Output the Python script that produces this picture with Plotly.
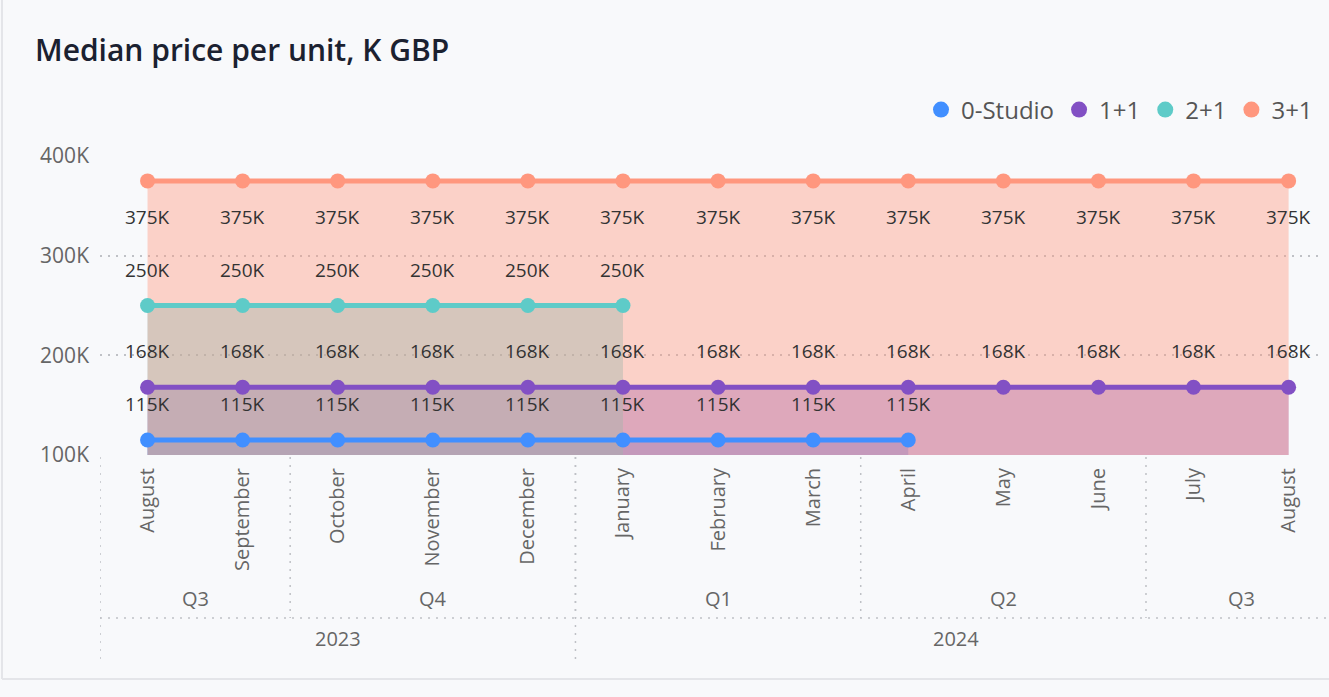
import plotly.graph_objects as go

# ---------------- data ----------------
months = ["August", "September", "October", "November", "December", "January",
          "February", "March", "April", "May", "June", "July", "August"]
quarters = ["Q3", "Q3", "Q4", "Q4", "Q4", "Q1", "Q1", "Q1", "Q2", "Q2", "Q2", "Q3", "Q3"]
years = ["2023", "2023", "2023", "2023", "2023", "2024", "2024", "2024", "2024",
         "2024", "2024", "2024", "2024"]

series_names = ["0-Studio", "1+1", "2+1", "3+1"]
studio_vals = [115, 115, 115, 115, 115, 115, 115, 115, 115]
one_one_vals = [168, 168, 168, 168, 168, 168, 168, 168, 168, 168, 168, 168, 168]
two_one_vals = [250, 250, 250, 250, 250, 250]
three_one_vals = [375, 375, 375, 375, 375, 375, 375, 375, 375, 375, 375, 375, 375]
y_ticks = [100, 200, 300, 400]
y_tick_labels = ["100K", "200K", "300K", "400K"]

# ---------------- style ----------------
colors = ["#418FFF", "#8250C4", "#5ECBC8", "#FF977E"]
fills = ["rgba(65,143,255,0.4)", "rgba(130,80,196,0.4)",
         "rgba(94,203,200,0.4)", "rgba(255,151,126,0.4)"]
label_shift = [36, 36, 36, -36]
FONT = "Open Sans"
BG = "#F8F9FB"
GRID = "#BFC1C6"
DOTS = "2px,6px"

W, H = 1329, 697
L, R, T, B = 100, 1320, 156, 455
PW, PH = R - L, B - T


def py(pix):  # screen pixel y -> paper y
    return (B - pix) / PH


def px(pix):  # screen pixel x -> paper x
    return (pix - L) / PW


all_vals = [studio_vals, one_one_vals, two_one_vals, three_one_vals]
fig = go.Figure()

# area fills (drawn first, in series order)
for name, vals, fc in zip(series_names, all_vals, fills):
    fig.add_trace(go.Scatter(
        x=list(range(len(vals))), y=vals, mode="none", fill="tozeroy",
        fillcolor=fc, showlegend=False, hoverinfo="skip"))

# lines + markers on top
for name, vals, c in zip(series_names, all_vals, colors):
    fig.add_trace(go.Scatter(
        x=list(range(len(vals))), y=vals, mode="lines+markers", name=name,
        line=dict(color=c, width=5), marker=dict(color=c, size=15),
        showlegend=False))

# legend entries (circle only)
for name, c in zip(series_names, colors):
    fig.add_trace(go.Scatter(
        x=[None], y=[None], mode="markers", name=name,
        marker=dict(color=c, size=19), showlegend=True))

annotations = []
# data labels
for vals, sh in zip(all_vals, label_shift):
    for i, v in enumerate(vals):
        annotations.append(dict(
            x=i, y=v, xref="x", yref="y", yshift=sh, text=f"{v}K",
            showarrow=False, font=dict(family=FONT, size=19, color="#333333")))


def groups(keys):
    out = []
    start = 0
    for i in range(1, len(keys) + 1):
        if i == len(keys) or keys[i] != keys[start]:
            out.append((start, i - 1))
            start = i
    return out


qkeys = [y + q for y, q in zip(years, quarters)]
shapes = []
dot = dict(color=GRID, width=1.5, dash=DOTS)
for s, e in groups(qkeys):
    annotations.append(dict(
        x=(s + e) / 2, y=py(598), xref="x", yref="paper", text=quarters[s],
        showarrow=False, yanchor="middle",
        font=dict(family=FONT, size=20, color="#666666")))
    if s > 0:
        shapes.append(dict(type="line", xref="x", yref="paper", x0=s - 0.5, x1=s - 0.5,
                           y0=py(457), y1=py(618), line=dot))
for s, e in groups(years):
    annotations.append(dict(
        x=(s + e) / 2, y=py(638), xref="x", yref="paper", text=years[s],
        showarrow=False, yanchor="middle",
        font=dict(family=FONT, size=20, color="#666666")))
    shapes.append(dict(type="line", xref="x", yref="paper", x0=s - 0.5, x1=s - 0.5,
                       y0=py(457), y1=py(660), line=dot))
shapes.append(dict(type="line", xref="paper", yref="paper", x0=0, x1=px(1335),
                   y0=py(618), y1=py(618), line=dot))

# card border
shapes.append(dict(type="line", xref="paper", yref="paper", x0=px(2), x1=px(2),
                   y0=py(-5), y1=py(679), line=dict(color="#E4E5E9", width=2)))
shapes.append(dict(type="line", xref="paper", yref="paper", x0=px(2), x1=px(1340),
                   y0=py(679), y1=py(679), line=dict(color="#E4E5E9", width=2)))

fig.update_layout(
    width=W, height=H,
    margin=dict(l=L, r=W - R, t=T, b=H - B),
    paper_bgcolor=BG, plot_bgcolor=BG,
    font=dict(family=FONT, color="#666666"),
    title=dict(text="Median price per unit, K GBP", xref="container", yref="container",
               x=35 / W, xanchor="left", y=1 - 50 / H, yanchor="middle",
               font=dict(family=FONT, size=30, color="#1B2130", weight=600)),
    legend=dict(orientation="h", xanchor="right", x=px(1318), yanchor="middle",
                y=py(110), font=dict(family=FONT, size=24, color="#555555"),
                bgcolor="rgba(0,0,0,0)", itemwidth=30, tracegroupgap=0),
    xaxis=dict(range=[-0.5, 12.33],
               tickmode="array", tickvals=list(range(len(months))), ticktext=months,
               tickangle=-90, showgrid=False, zeroline=False, showline=False,
               ticks="", ticklabelstandoff=8,
               tickfont=dict(family=FONT, size=20, color="#666666")),
    yaxis=dict(range=[100, 400], tickmode="array", tickvals=y_ticks, ticktext=y_tick_labels,
               showgrid=True, gridcolor=GRID, griddash=DOTS, gridwidth=1.5,
               zeroline=False, showline=False, ticks="", ticklabelstandoff=10,
               tickfont=dict(family=FONT, size=21, color="#666666")),
    annotations=annotations, shapes=shapes, showlegend=True,
)

fig.write_html(
    "out.html",
    config={"displayModeBar": False},
    post_script="document.body.style.margin='0';document.body.style.padding='0';"
                "document.body.style.background='" + BG + "';"
                "document.documentElement.style.overflow='hidden';",
)
